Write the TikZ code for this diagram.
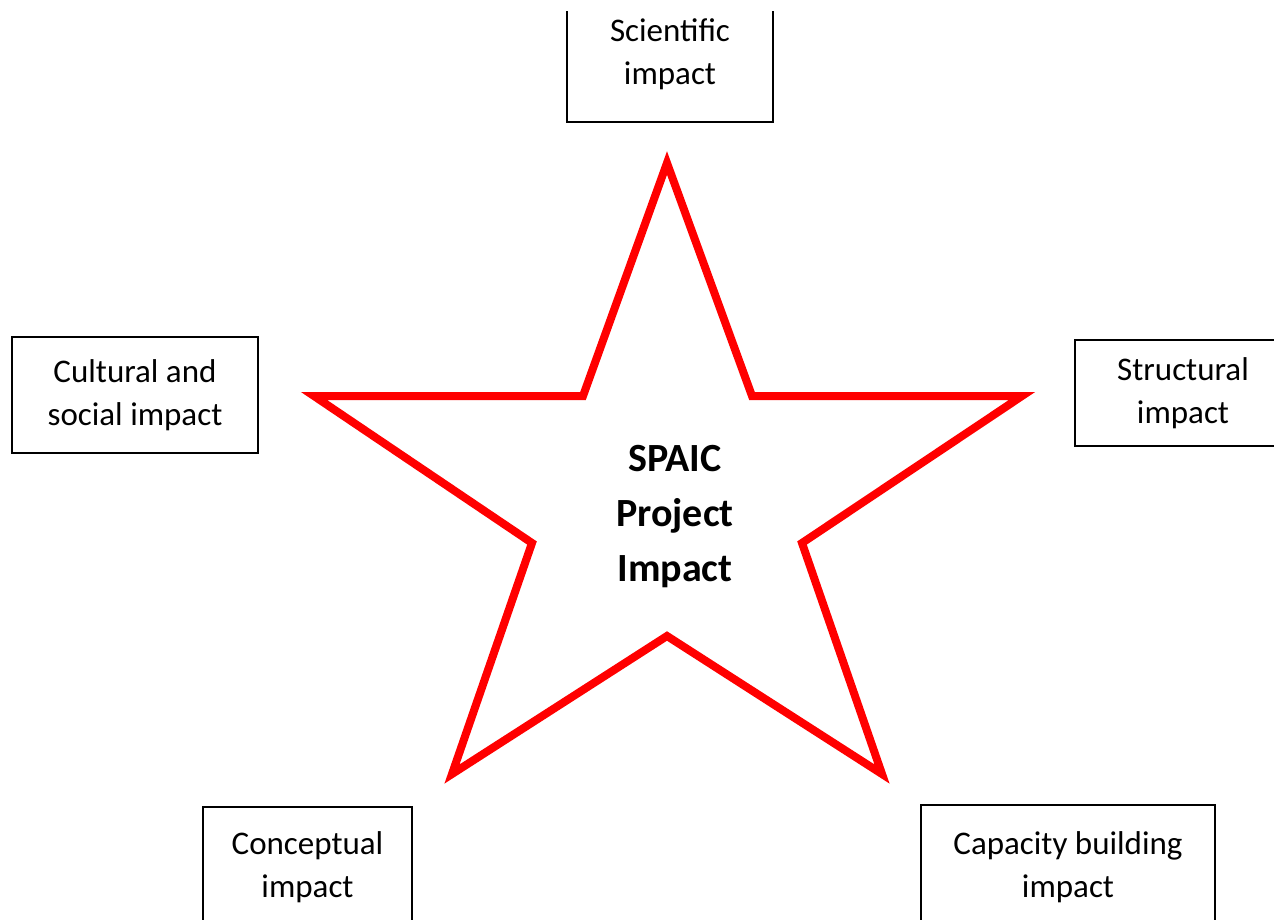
\documentclass[tikz,border=0pt]{standalone}
\usepackage{fontspec}
\setmainfont{Carlito}
\begin{document}
\begin{tikzpicture}[x=0.5pt, y=-0.5pt,
  impactbox/.style={draw=black, line width=1.2pt, fill=white, align=center,
    inner sep=0pt, font=\fontsize{16.5}{21.5}\selectfont},
  startext/.style={align=center, font=\bfseries\fontsize{20}{27.5}\selectfont}]
\useasboundingbox (0,0) rectangle (1274,920);
\clip (0,12) rectangle (1274,920);

% Star
\draw[red, line width=4pt, line join=miter, miter limit=10]
  (667,163) -- (752,396) -- (1022,396) -- (802,543) -- (882,774)
  -- (667,636) -- (452,774) -- (532,543) -- (314,396) -- (583,396) -- cycle;

% Centre
\node[startext] (core) at (675,517) {SPAIC\\Project\\Impact};

% Boxes
\node[impactbox, minimum width=103pt, minimum height=68pt] (sci) at (670,54) {Scientific\\impact};
\node[impactbox, minimum width=123pt, minimum height=58pt] (cult) at (135,395) {Cultural and\\social impact};
\node[impactbox, minimum width=108pt, minimum height=53pt] (struct) at (1183,393) {Structural\\impact};
\node[impactbox, minimum width=104.5pt, minimum height=60pt] (conc) at (307.5,867) {Conceptual\\impact};
\node[impactbox, minimum width=147pt, minimum height=62pt] (cap) at (1068,867) {Capacity building\\impact};
\end{tikzpicture}
\end{document}
